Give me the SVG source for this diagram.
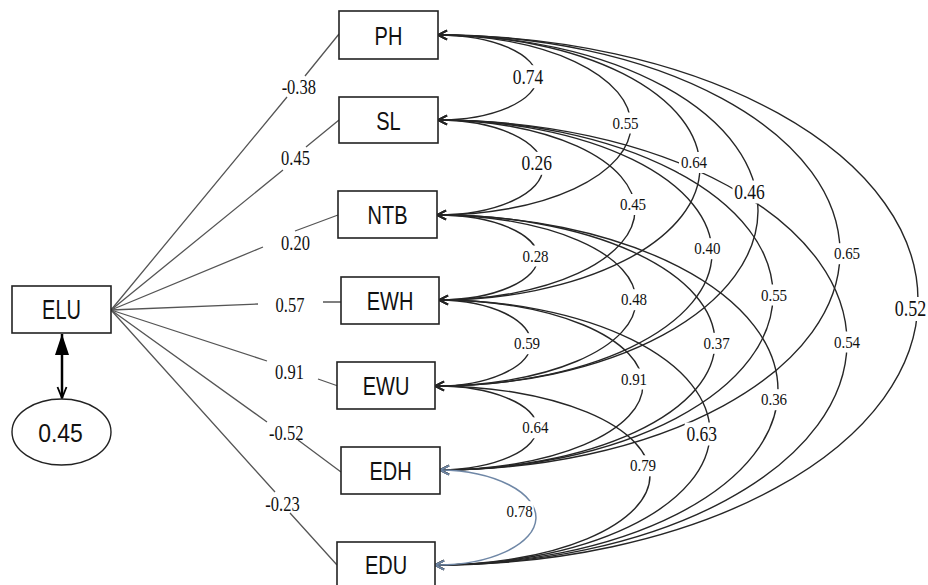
<svg xmlns="http://www.w3.org/2000/svg" width="928" height="585" viewBox="0 0 928 585">
<style>
.box{fill:#fff;stroke:#222;stroke-width:1.6}
.nt{font-family:"Liberation Sans",Arial,sans-serif;font-size:20px;fill:#111;text-anchor:middle}
.pl{fill:none;stroke:#555;stroke-width:1.3}
.arc{fill:none;stroke:#262626;stroke-width:1.4;marker-start:url(#oa);marker-end:url(#oa)}
.arcb{fill:none;stroke:#6f87a6;stroke-width:1.5;marker-start:url(#ob);marker-end:url(#ob)}
.pt{font-family:"Liberation Serif","Times New Roman",serif;font-size:16.5px;fill:#111;text-anchor:middle}
.cr{font-family:"Liberation Serif","Times New Roman",serif;font-size:15px;fill:#111;text-anchor:middle}
.cl{font-family:"Liberation Serif","Times New Roman",serif;font-size:17.5px;fill:#111;text-anchor:middle}
.cx{font-family:"Liberation Serif","Times New Roman",serif;font-size:18px;fill:#111;text-anchor:middle}
.bg{fill:#fff;stroke:none}
</style>
<defs>
<marker id="oa" markerUnits="userSpaceOnUse" markerWidth="12" markerHeight="11" refX="10" refY="5.5" orient="auto-start-reverse" overflow="visible">
<path d="M1,1 L10,5.5 L1,10" fill="none" stroke="#262626" stroke-width="1.5"/>
</marker>
<marker id="ob" markerUnits="userSpaceOnUse" markerWidth="12" markerHeight="11" refX="10" refY="5.5" orient="auto-start-reverse" overflow="visible">
<path d="M1,1 L10,5.5 L1,10" fill="none" stroke="#6f87a6" stroke-width="1.8"/>
</marker>
<marker id="ft" markerUnits="userSpaceOnUse" markerWidth="22" markerHeight="15" refX="21" refY="7" orient="auto-start-reverse" overflow="visible">
<path d="M0,0 L21,7 L0,14 z" fill="#000"/>
</marker>
<marker id="oe" markerUnits="userSpaceOnUse" markerWidth="12" markerHeight="10" refX="11" refY="4.5" orient="auto-start-reverse" overflow="visible">
<path d="M0,0 L11,4.5 L0,9" fill="none" stroke="#000" stroke-width="1.8"/>
</marker>
</defs>
<rect width="928" height="585" fill="#fff"/>

<g id="connectors">
<g id="paths">
<path class="pl" d="M111,310 L287,97 M305,76 L339,34"/>
<path class="pl" d="M111,310 L283,170 M306,147 L339,120"/>
<path class="pl" d="M111,310 L263,247 M295,231 L338,215"/>
<path class="pl" d="M111,310 L258,304 M323,302 L341,302"/>
<path class="pl" d="M111,310 L267,361 M318,379 L338,386"/>
<path class="pl" d="M111,310 L267,422 M298,440 L341,472"/>
<path class="pl" d="M111,310 L275,492 M290,513 L337,565"/>
<line x1="62" y1="334" x2="62" y2="398" stroke="#000" stroke-width="2.5" marker-start="url(#ft)" marker-end="url(#oe)"/>
</g>
<g id="covariances">
<path class="arc" d="M438,35 A99,42.5 0 0 1 438,120"/>
<path class="arc" d="M438,35 A193.5,90 0 0 1 437,215"/>
<path class="arc" d="M438,35 A261.5,132.5 0 0 1 439,300"/>
<path class="arc" d="M438,35 A321.5,175.5 0 0 1 435,386"/>
<path class="arc" d="M438,35 A401,217.5 0 0 1 440,470"/>
<path class="arc" d="M438,35 A481.5,265 0 0 1 435,565"/>
<path class="arc" d="M438,120 A105.5,47.5 0 0 1 437,215"/>
<path class="arc" d="M438,120 A196.5,90 0 0 1 439,300"/>
<path class="arc" d="M438,120 A275.5,133 0 0 1 435,386"/>
<path class="arc" d="M438,120 A334,175 0 0 1 440,470"/>
<path class="arc" d="M438,120 A410.5,222.5 0 0 1 435,565"/>
<path class="arc" d="M437,215 A100,42.5 0 0 1 439,300"/>
<path class="arc" d="M437,215 A200,85.5 0 0 1 435,386"/>
<path class="arc" d="M437,215 A276.5,127.5 0 0 1 440,470"/>
<path class="arc" d="M437,215 A342,175 0 0 1 435,565"/>
<path class="arc" d="M439,300 A94,43 0 0 1 435,386"/>
<path class="arc" d="M439,300 A203.5,85 0 0 1 440,470"/>
<path class="arc" d="M439,300 A273,132.5 0 0 1 435,565"/>
<path class="arc" d="M435,386 A99.5,42 0 0 1 440,470"/>
<path class="arc" d="M435,386 A215,89.5 0 0 1 435,565"/>
<path class="arcb" d="M440,470 A98.5,47.5 0 0 1 435,565"/>
</g>
<g id="labels">
<text class="pt" transform="translate(298.8,94) scale(1,1.22)">-0.38</text>
<text class="pt" transform="translate(295.5,164.8) scale(1,1.22)">0.45</text>
<text class="pt" transform="translate(295.5,249.6) scale(1,1.22)">0.20</text>
<text class="pt" transform="translate(290,312.1) scale(1,1.22)">0.57</text>
<text class="pt" transform="translate(289.5,378.8) scale(1,1.22)">0.91</text>
<text class="pt" transform="translate(286.2,439.6) scale(1,1.22)">-0.52</text>
<text class="pt" transform="translate(282.5,510.5) scale(1,1.22)">-0.23</text>

<rect class="bg" x="511" y="65.2" width="34" height="23"/>
<text class="cl" transform="translate(528,83.8) scale(1,1.2)">0.74</text>
<rect class="bg" x="610.5" y="112.5" width="30" height="21"/>
<text class="cr" transform="translate(625.5,128.6) scale(1,1.1)">0.55</text>
<rect class="bg" x="679" y="152" width="30" height="21"/>
<text class="cr" transform="translate(694,168.1) scale(1,1.1)">0.64</text>
<rect class="bg" x="732.5" y="180.5" width="34" height="23"/>
<text class="cl" transform="translate(749.5,199.1) scale(1,1.2)">0.46</text>
<rect class="bg" x="832" y="243.2" width="30" height="21"/>
<text class="cr" transform="translate(847,259.3) scale(1,1.1)">0.65</text>
<rect class="bg" x="893" y="297" width="35" height="24"/>
<text class="cx" transform="translate(910.5,316.3) scale(1,1.25)">0.52</text>
<rect class="bg" x="519.7" y="151.8" width="34" height="23"/>
<text class="cl" transform="translate(536.7,170.4) scale(1,1.2)">0.26</text>
<rect class="bg" x="618" y="194" width="30" height="21"/>
<text class="cr" transform="translate(633,210.1) scale(1,1.1)">0.45</text>
<rect class="bg" x="692.3" y="238.2" width="30" height="21"/>
<text class="cr" transform="translate(707.3,254.3) scale(1,1.1)">0.40</text>
<rect class="bg" x="759" y="284.5" width="30" height="21"/>
<text class="cr" transform="translate(774,300.6) scale(1,1.1)">0.55</text>
<rect class="bg" x="832" y="331.5" width="30" height="21"/>
<text class="cr" transform="translate(847,347.6) scale(1,1.1)">0.54</text>
<rect class="bg" x="520.5" y="245.5" width="30" height="21"/>
<text class="cr" transform="translate(535.5,261.6) scale(1,1.1)">0.28</text>
<rect class="bg" x="619" y="289.2" width="30" height="21"/>
<text class="cr" transform="translate(634,305.3) scale(1,1.1)">0.48</text>
<rect class="bg" x="701.7" y="332.8" width="30" height="21"/>
<text class="cr" transform="translate(716.7,348.9) scale(1,1.1)">0.37</text>
<rect class="bg" x="759" y="389.2" width="30" height="21"/>
<text class="cr" transform="translate(774,405.3) scale(1,1.1)">0.36</text>
<rect class="bg" x="512" y="333.2" width="30" height="21"/>
<text class="cr" transform="translate(527,349.3) scale(1,1.1)">0.59</text>
<rect class="bg" x="619" y="368.5" width="30" height="21"/>
<text class="cr" transform="translate(634,384.6) scale(1,1.1)">0.91</text>
<rect class="bg" x="684.7" y="422.5" width="34" height="23"/>
<text class="cl" transform="translate(701.7,441.1) scale(1,1.2)">0.63</text>
<rect class="bg" x="520.3" y="417.3" width="30" height="21"/>
<text class="cr" transform="translate(535.3,433.4) scale(1,1.1)">0.64</text>
<rect class="bg" x="628" y="455.3" width="28" height="21"/>
<text class="cr" transform="translate(643,471.4) scale(1,1.1)">0.79</text>
<rect class="bg" x="504.7" y="501.2" width="29" height="21"/>
<text class="cr" transform="translate(519.7,517.3) scale(1,1.1)">0.78</text>
</g>
</g>

<g id="node-ELU">
<rect class="box" x="12" y="286" width="99" height="47"/>
<text class="nt" transform="translate(61.5,319) scale(1,1.35)">ELU</text>
</g>
<g id="node-err">
<ellipse cx="61.5" cy="432" rx="49.5" ry="33" fill="#fff" stroke="#222" stroke-width="1.4"/>
<text class="nt" style="font-size:23px" transform="translate(60.5,442) scale(1,1.15)">0.45</text>
</g>
<g id="node-PH">
<rect class="box" x="339" y="11" width="99" height="48"/>
<text class="nt" transform="translate(388.5,44.5) scale(1,1.3)">PH</text>
</g>
<g id="node-SL">
<rect class="box" x="339" y="97" width="99" height="46"/>
<text class="nt" transform="translate(388.5,129.5) scale(1,1.3)">SL</text>
</g>
<g id="node-NTB">
<rect class="box" x="338" y="191" width="99" height="47"/>
<text class="nt" transform="translate(387.5,224) scale(1,1.3)">NTB</text>
</g>
<g id="node-EWH">
<rect class="box" x="341" y="277" width="98" height="47"/>
<text class="nt" transform="translate(390,310) scale(1,1.3)">EWH</text>
</g>
<g id="node-EWU">
<rect class="box" x="337" y="362" width="98" height="47"/>
<text class="nt" transform="translate(386,395) scale(1,1.3)">EWU</text>
</g>
<g id="node-EDH">
<rect class="box" x="341" y="447" width="99" height="47"/>
<text class="nt" transform="translate(390.5,480) scale(1,1.3)">EDH</text>
</g>
<g id="node-EDU">
<rect class="box" x="337" y="542" width="98" height="48"/>
<text class="nt" transform="translate(386,574) scale(1,1.3)">EDU</text>
</g>
</svg>
